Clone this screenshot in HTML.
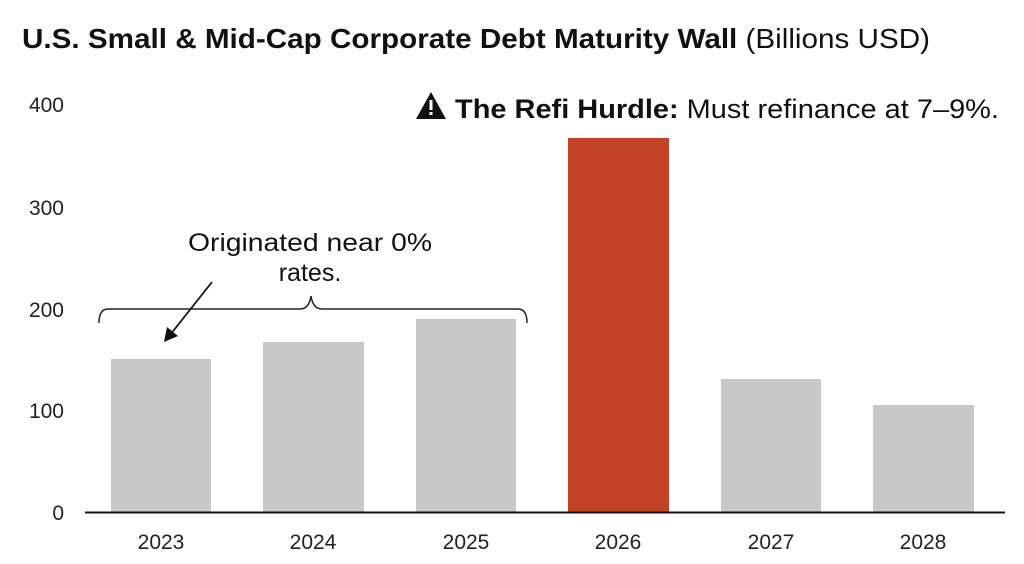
<!DOCTYPE html>
<html><head><meta charset="utf-8"><style>
body{margin:0;background:#fff;width:1024px;height:559px;overflow:hidden;font-family:"Liberation Sans",sans-serif}
</style></head><body>
<svg width="1024" height="559" xmlns="http://www.w3.org/2000/svg" font-family="Liberation Sans, sans-serif">
<text x="22" y="48" font-size="28" fill="#111" textLength="908" lengthAdjust="spacingAndGlyphs"><tspan font-weight="bold">U.S. Small &amp; Mid-Cap Corporate Debt Maturity Wall</tspan> (Billions USD)</text>
<g font-size="21" fill="#222" text-anchor="end">
<text x="64" y="112">400</text><text x="64" y="215">300</text><text x="64" y="317">200</text><text x="64" y="418">100</text><text x="64" y="520">0</text>
</g>
<g fill="#c8c8c8">
<rect x="111" y="359" width="100" height="153"/>
<rect x="263" y="342" width="101" height="170"/>
<rect x="416" y="319" width="100" height="193"/>
<rect x="721" y="379" width="100" height="133"/>
<rect x="873" y="405" width="101" height="107"/>
</g>
<rect x="568" y="138" width="101" height="374" fill="#c44326"/>
<line x1="85" y1="512.5" x2="1005" y2="512.5" stroke="#111" stroke-width="2"/>
<g font-size="21" fill="#222" text-anchor="middle">
<text x="161" y="549">2023</text><text x="313" y="549">2024</text><text x="466" y="549">2025</text>
<text x="618" y="549">2026</text><text x="771" y="549">2027</text><text x="923" y="549">2028</text>
</g>
<path d="M99 323 Q99 309 108 309 L300 309 Q309 309 311 296 Q313 309 322 309 L518 309 Q527 309 527 323" fill="none" stroke="#222" stroke-width="1.5"/>
<line x1="212" y1="282" x2="170" y2="335" stroke="#111" stroke-width="1.8"/>
<polygon points="164,342 167,327 178,336" fill="#111"/>
<g font-size="25" fill="#111" text-anchor="middle">
<text x="310" y="251" textLength="244" lengthAdjust="spacingAndGlyphs">Originated near 0%</text><text x="310" y="281">rates.</text>
</g>
<polygon points="431,92 416,119 446,119" fill="#111"/>
<rect x="429.5" y="100" width="3" height="10" fill="#fff"/><rect x="429.5" y="112" width="3" height="3" fill="#fff"/>
<text x="455" y="118" font-size="27" fill="#111" textLength="544" lengthAdjust="spacingAndGlyphs"><tspan font-weight="bold">The Refi Hurdle:</tspan> Must refinance at 7–9%.</text>
</svg>
</body></html>
